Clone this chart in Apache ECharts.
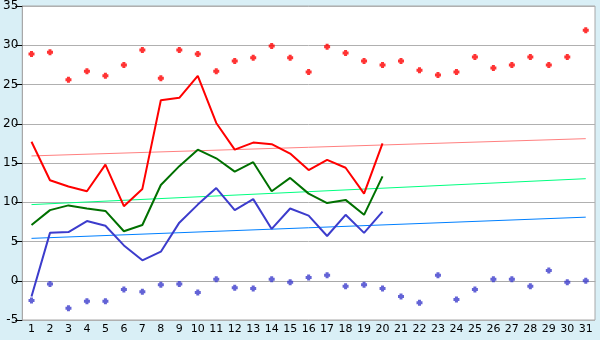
<!DOCTYPE html>
<html>
<head>
<meta charset="utf-8">
<script src="https://cdn.jsdelivr.net/npm/echarts@6/dist/echarts.min.js"></script>
<style>
  html, body { margin: 0; padding: 0; background: #d9eff6; }
  #chart { width: 600px; height: 340px; }
</style>
</head>
<body>
<div id="chart"></div>
<script>
// days of the month
var days = [];
for (var d = 1; d <= 31; d++) days.push(String(d));

// scattered daily extremes
var maxPoints = [28.9, 29.1, 25.6, 26.7, 26.1, 27.5, 29.4, 25.8, 29.4, 28.9,
                 26.7, 28.0, 28.4, 29.9, 28.4, 26.6, 29.8, 29.0, 28.0, 27.5,
                 28.0, 26.8, 26.2, 26.6, 28.5, 27.1, 27.5, 28.5, 27.5, 28.5, 31.9];
var minPoints = [-2.5, -0.4, -3.5, -2.6, -2.6, -1.1, -1.4, -0.5, -0.4, -1.5,
                 0.2, -0.9, -1.0, 0.2, -0.2, 0.4, 0.7, -0.7, -0.5, -1.0,
                 -2.0, -2.8, 0.7, -2.4, -1.1, 0.2, 0.2, -0.7, 1.3, -0.2, 0.0];

// current month lines (days 1-20)
var highLine = [17.7, 12.8, 12.0, 11.4, 14.8, 9.5, 11.7, 23.0, 23.3, 26.1,
                20.1, 16.7, 17.6, 17.4, 16.2, 14.1, 15.4, 14.4, 11.1, 17.5];
var meanLine = [7.1, 9.0, 9.6, 9.2, 8.9, 6.3, 7.1, 12.2, 14.6, 16.7,
                15.6, 13.9, 15.1, 11.4, 13.1, 11.1, 9.9, 10.3, 8.4, 13.3];
var lowLine = [-2.0, 6.1, 6.2, 7.6, 7.0, 4.5, 2.6, 3.7, 7.4, 9.7,
               11.8, 9.0, 10.4, 6.6, 9.2, 8.3, 5.7, 8.4, 6.1, 8.8];

// trend lines: value on day 1 and on day 31
var highTrend = [15.9, 18.1];
var meanTrend = [9.7, 13.0];
var lowTrend = [5.4, 8.1];

function ends(t) {
  return days.map(function (d, i) {
    if (i === 0) return t[0];
    if (i === days.length - 1) return t[1];
    return null;
  });
}

// chunky plus marker
var plus = 'path://M1.5,0H4.5V1.5H6V4.5H4.5V6H1.5V4.5H0V1.5H1.5Z';

var chart = echarts.init(document.getElementById('chart'));
chart.setOption({
  animation: false,
  backgroundColor: '#d9eff6',
  textStyle: { fontFamily: 'DejaVu Sans' },
  grid: {
    left: 20, right: 5, top: 5, bottom: 20,
    show: true, backgroundColor: '#ffffff', borderColor: '#a8a8a8', borderWidth: 1
  },
  xAxis: {
    type: 'category',
    data: days,
    boundaryGap: true,
    axisLine: { lineStyle: { color: '#a8a8a8' } },
    axisTick: { alignWithLabel: true, length: 6, lineStyle: { color: '#000' } },
    axisLabel: { color: '#000', fontSize: 11, margin: 4, interval: 0 },
    splitLine: { show: false }
  },
  yAxis: {
    type: 'value',
    min: -5, max: 35, interval: 5,
    axisLine: { show: true, lineStyle: { color: '#a8a8a8' } },
    axisTick: { show: true, length: 7, lineStyle: { color: '#000' } },
    axisLabel: { color: '#000', fontSize: 12, margin: 4 },
    splitLine: { lineStyle: { color: '#b0b0b0' } }
  },
  series: [
    { type: 'line', data: ends(highTrend), connectNulls: true, showSymbol: false,
      lineStyle: { color: '#ff8080', width: 1 }, itemStyle: { color: '#ff8080' } },
    { type: 'line', data: ends(meanTrend), connectNulls: true, showSymbol: false,
      lineStyle: { color: '#00ff80', width: 1 }, itemStyle: { color: '#00ff80' } },
    { type: 'line', data: ends(lowTrend), connectNulls: true, showSymbol: false,
      lineStyle: { color: '#0080ff', width: 1 }, itemStyle: { color: '#0080ff' } },
    { type: 'line', data: highLine, showSymbol: false,
      lineStyle: { color: '#ff0000', width: 2 }, itemStyle: { color: '#ff0000' } },
    { type: 'line', data: meanLine, showSymbol: false,
      lineStyle: { color: '#007000', width: 2 }, itemStyle: { color: '#007000' } },
    { type: 'line', data: lowLine, showSymbol: false,
      lineStyle: { color: '#3c3ccc', width: 2 }, itemStyle: { color: '#3c3ccc' } },
    { type: 'scatter', data: maxPoints, symbol: plus, symbolSize: 6,
      itemStyle: { color: '#ff0000' } },
    { type: 'scatter', data: minPoints, symbol: plus, symbolSize: 6,
      itemStyle: { color: '#3c3ccc' } }
  ]
});
</script>
</body>
</html>
